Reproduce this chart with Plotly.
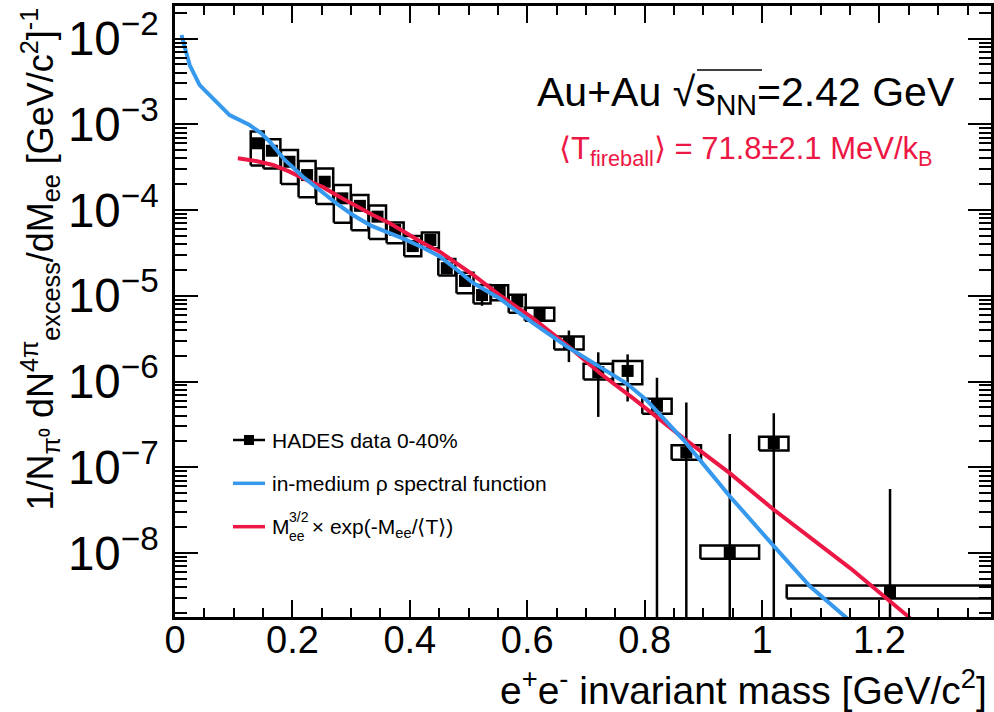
import plotly.graph_objects as go

# ---------------- data ----------------
mass = [0.140, 0.165, 0.195, 0.225, 0.255, 0.285, 0.315, 0.345, 0.375, 0.405,
        0.435, 0.463, 0.494, 0.523, 0.553, 0.583, 0.621, 0.671, 0.721, 0.771,
        0.821, 0.871, 0.945, 1.020, 1.218]
yield_ = [6.01e-4, 4.92e-4, 3.66e-4, 2.56e-4, 2.14e-4, 1.37e-4, 1.12e-4, 8.38e-5,
          5.86e-5, 3.80e-5, 4.48e-5, 2.10e-5, 1.49e-5, 1.02e-5, 1.11e-5, 8.57e-6,
          6.11e-6, 2.81e-6, 1.29e-6, 1.33e-6, 5.21e-7, 1.49e-7, 1.02e-8, 1.91e-7,
          3.51e-9]
bin_half = [0.011, 0.0145, 0.0145, 0.0145, 0.0145, 0.0145, 0.0145, 0.0145, 0.0145,
            0.0145, 0.0145, 0.0145, 0.0145, 0.0145, 0.0145, 0.0145, 0.025, 0.025,
            0.025, 0.025, 0.025, 0.025, 0.05, 0.025, 0.176]
stat_rel = [0.05, 0.05, 0.05, 0.06, 0.06, 0.07, 0.07, 0.08, 0.08, 0.09, 0.09, 0.10,
            0.12, 0.25, 0.15, 0.22, 0.18, 0.40, 0.70, 0.56, 1.12, 2.82, 23.0, 1.24,
            14.9]
sys_up = [0.37, 0.36, 0.37, 0.46, 0.43, 0.43, 0.34, 0.35, 0.22, 0.31, 0.22, 0.28,
          0.25, 0.31, 0.20, 0.20, 0.19, 0.19, 0.25, 0.31, 0.21, 0.21, 0.20, 0.19, 0.19]
sys_dn = [0.45, 0.38, 0.45, 0.45, 0.45, 0.48, 0.48, 0.45, 0.30, 0.24, 0.20, 0.18,
          0.28, 0.20, 0.20, 0.26, 0.16, 0.16, 0.18, 0.30, 0.19, 0.18, 0.16, 0.18, 0.16]

rho_mass = [0.011, 0.025, 0.042, 0.067, 0.093, 0.127, 0.147, 0.161, 0.187, 0.218,
            0.246, 0.275, 0.303, 0.332, 0.360, 0.388, 0.4225, 0.451, 0.479, 0.508,
            0.553, 0.610, 0.667, 0.724, 0.769, 0.803, 0.866, 0.894, 0.945, 1.019,
            1.082, 1.144, 1.160]
rho_val = [1.10e-2, 4.9e-3, 2.87e-3, 1.92e-3, 1.28e-3, 9.8e-4, 7.85e-4, 6.31e-4,
           3.84e-4, 2.45e-4, 1.71e-4, 1.20e-4, 8.77e-5, 6.68e-5, 5.58e-5, 4.68e-5,
           3.63e-5, 2.88e-5, 2.04e-5, 1.41e-5, 9.3e-6, 4.79e-6, 2.57e-6, 1.50e-6,
           9.55e-7, 6.12e-7, 2.09e-7, 1.22e-7, 4.60e-8, 1.23e-8, 4.07e-9, 1.75e-9,
           1.3e-9]

fit_mass = [0.107, 0.138, 0.167, 0.195, 0.224, 0.252, 0.280, 0.309, 0.337, 0.366,
            0.394, 0.423, 0.451, 0.479, 0.508, 0.553, 0.610, 0.667, 0.724, 0.780,
            0.820, 0.866, 0.945, 1.019, 1.150, 1.252]
fit_val = [4.02e-4, 3.73e-4, 3.36e-4, 2.81e-4, 2.24e-4, 1.85e-4, 1.43e-4, 1.10e-4,
           8.77e-5, 7.01e-5, 5.37e-5, 4.10e-5, 3.27e-5, 2.40e-5, 1.75e-5, 1.02e-5,
           5.47e-6, 2.68e-6, 1.25e-6, 6.41e-7, 3.91e-7, 2.19e-7, 8.55e-8, 3.24e-8,
           6.68e-9, 1.75e-9]

legend_names = ["HADES data 0-40%", "in-medium \u03c1 spectral function"]

# ---------------- styling ----------------
FONT = "Liberation Sans, Arial, Helvetica, sans-serif"
BLUE = "#3699EE"
RED = "#EC1744"
L, R, T, B = 175, 3, 6, 95
W, H = 994, 712
PW, PH = W - L - R, H - T - B


def px(xp):
    return (xp - L) / PW


def py(yp):
    return (H - B - yp) / PH


fig = go.Figure()

# systematic boxes
bx, by = [], []
for m, v, hw, su, sd in zip(mass, yield_, bin_half, sys_up, sys_dn):
    lo, hi = v * (1 - sd), v * (1 + su)
    bx += [m - hw, m + hw, m + hw, m - hw, m - hw, None]
    by += [lo, lo, hi, hi, lo, None]
fig.add_trace(go.Scatter(x=bx, y=by, mode="lines", line=dict(color="black", width=2.5),
                         showlegend=False, hoverinfo="skip"))

# statistical error bars
ex, ey = [], []
for m, v, s in zip(mass, yield_, stat_rel):
    lo = v * (1 - s) if s < 1 else 1e-11
    ex += [m, m, None]
    ey += [lo, v * (1 + s), None]
fig.add_trace(go.Scatter(x=ex, y=ey, mode="lines", line=dict(color="black", width=2.5),
                         showlegend=False, hoverinfo="skip"))

# data points
fig.add_trace(go.Scatter(x=mass, y=yield_, mode="markers", name=legend_names[0],
                         marker=dict(symbol="square", size=12, color="black"),
                         showlegend=False))

# curves
fig.add_trace(go.Scatter(x=fit_mass, y=fit_val, mode="lines", line=dict(color=RED, width=4),
                         showlegend=False))
fig.add_trace(go.Scatter(x=rho_mass, y=rho_val, mode="lines", line=dict(color=BLUE, width=4),
                         showlegend=False))

# ---------------- axes ----------------
fig.update_xaxes(range=[0, 1.39], dtick=0.2, tick0=0, ticks="inside", ticklen=17, tickwidth=2,
                 tickcolor="black", showline=True, linewidth=2.5, linecolor="black",
                 mirror="allticks", showgrid=False, zeroline=False, automargin=False,
                 tickfont=dict(family=FONT, size=38, color="black"), ticklabelstandoff=-12,
                 minor=dict(dtick=0.05, ticks="inside", ticklen=9, tickwidth=2,
                            tickcolor="black", showgrid=False))
fig.update_yaxes(type="log", range=[-8.746, -1.620], dtick=1, exponentformat="power",
                 ticks="inside", ticklen=23, tickwidth=2, tickcolor="black",
                 showline=True, linewidth=2.5, linecolor="black", mirror="allticks",
                 showgrid=False, zeroline=False, ticklabelstandoff=6, automargin=False,
                 tickfont=dict(family=FONT, size=38, color="black"),
                 minor=dict(dtick="D1", ticks="inside", ticklen=12, tickwidth=2,
                            tickcolor="black", showgrid=False))

ann = []
# axis titles
ann.append(dict(text="e<sup>+</sup>e<sup>-</sup> invariant mass [GeV/c<sup>2</sup>]",
                x=px(989), y=py(687), xref="paper", yref="paper", xanchor="right",
                yanchor="middle", showarrow=False,
                font=dict(family=FONT, size=39, color="black")))
ann.append(dict(text="1/N<sub>\u03c0\u2070</sub> dN<sup>4\u03c0</sup><sub>excess</sub>/dM<sub>ee</sub>"
                     " [GeV/c<sup>2</sup>]<sup>-1</sup>",
                x=px(40), y=py(6), xref="paper", yref="paper", xanchor="center",
                yanchor="top", textangle=-90, showarrow=False,
                font=dict(family=FONT, size=36, color="black")))
# header texts
ann.append(dict(text="Au+Au \u221as<sub>NN</sub>=2.42 GeV",
                x=px(957), y=py(95), xref="paper", yref="paper", xanchor="right",
                yanchor="middle", showarrow=False,
                font=dict(family=FONT, size=41, color="black")))
ann.append(dict(text="\u27e8T<sub>fireball</sub>\u27e9 = 71.8\u00b12.1 MeV/k<sub>B</sub>",
                x=px(557), y=py(151), xref="paper", yref="paper", xanchor="left",
                yanchor="middle", showarrow=False,
                font=dict(family=FONT, size=31, color=RED)))

# ---------------- hand-made legend ----------------
shapes = []
# overline of the square root
shapes.append(dict(type="line", xref="paper", yref="paper", x0=px(697), x1=px(762),
                   y0=py(70), y1=py(70), line=dict(color="black", width=1.5)))
entry_y = [440, 483.3, 526.7]
colors = ["black", BLUE, RED]
for yy, c in zip(entry_y, colors):
    shapes.append(dict(type="line", xref="paper", yref="paper", x0=px(233), x1=px(265),
                       y0=py(yy), y1=py(yy), line=dict(color=c, width=3.5 if c != "black" else 2.5)))
shapes.append(dict(type="rect", xref="paper", yref="paper", x0=px(244), x1=px(254),
                   y0=py(entry_y[0] + 5), y1=py(entry_y[0] - 5), fillcolor="black",
                   line=dict(width=0)))
LF = dict(family=FONT, size=21, color="black")
for yy, name in zip(entry_y[:2], legend_names):
    ann.append(dict(text=name, x=px(270), y=py(yy), xref="paper", yref="paper",
                    xanchor="left", yanchor="middle", showarrow=False, font=LF))
ann.append(dict(text="M", x=px(270), y=py(entry_y[2]), xref="paper", yref="paper",
                xanchor="left", yanchor="middle", showarrow=False, font=LF))
ann.append(dict(text="3/2", x=px(287), y=py(entry_y[2] - 10), xref="paper", yref="paper",
                xanchor="left", yanchor="middle", showarrow=False,
                font=dict(family=FONT, size=14, color="black")))
ann.append(dict(text="ee", x=px(287), y=py(entry_y[2] + 9), xref="paper", yref="paper",
                xanchor="left", yanchor="middle", showarrow=False,
                font=dict(family=FONT, size=14, color="black")))
ann.append(dict(text=" \u00d7 exp(-M<sub>ee</sub>/\u27e8T\u27e9)", x=px(304), y=py(entry_y[2] + 1),
                xref="paper", yref="paper", xanchor="left", yanchor="middle",
                showarrow=False, font=LF))

fig.update_layout(width=W, height=H, margin=dict(l=L, r=R, t=T, b=B, autoexpand=False),
                  paper_bgcolor="white", plot_bgcolor="white",
                  annotations=ann, shapes=shapes, showlegend=False,
                  font=dict(family=FONT, color="black"))

fig.write_html("out.html", config={"displayModeBar": False},
               post_script="document.body.style.margin='0';document.body.style.padding='0';")
